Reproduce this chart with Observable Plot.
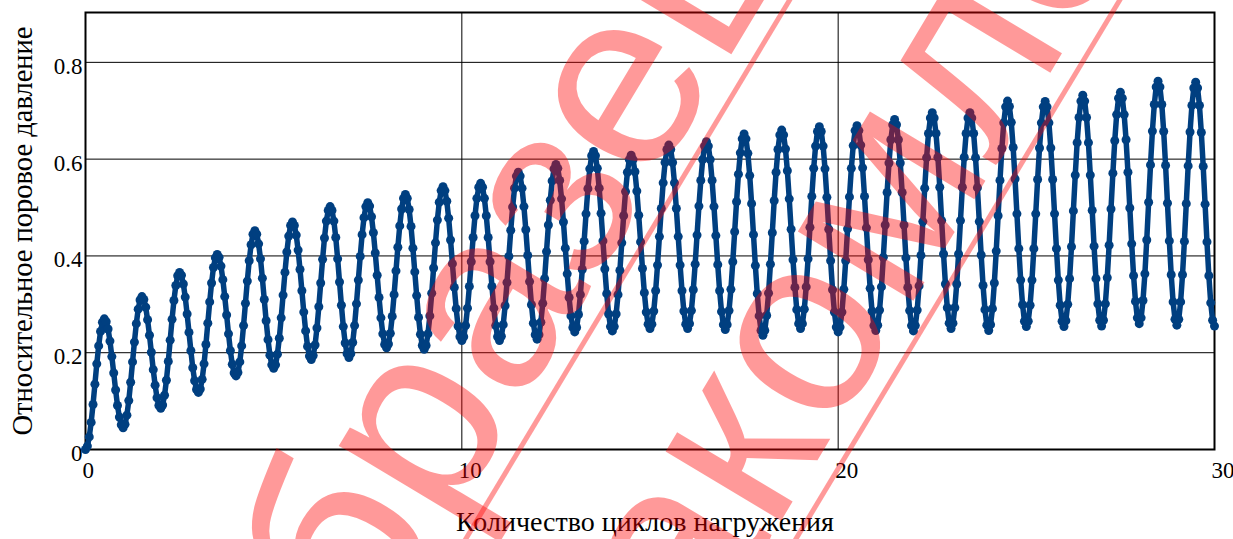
<!DOCTYPE html>
<html><head><meta charset="utf-8">
<script src="https://cdn.jsdelivr.net/npm/d3@7"></script>
<script src="https://cdn.jsdelivr.net/npm/@observablehq/plot@0.6"></script>
<style>
html,body{margin:0;padding:0;background:#fff;}
#wrap{position:relative;width:1233px;height:539px;overflow:hidden;background:#fff;}
#wm{position:absolute;left:0;top:0;pointer-events:none;}
</style></head><body>
<div id="wrap"></div>
<script>
const xTitle = "Количество циклов нагружения";
const yTitle = "Относительное поровое давление";
const xTicks = [0, 10, 20, 30];
const yTicks = [0, 0.2, 0.4, 0.6, 0.8];
const samplesPerCycle = 20;
// relative pore pressure, one row per loading cycle (20 samples each)
const cycleValues = [
[0,.007,.026,.056,.093,.135,.177,.214,.244,.263,.27,.264,.249,.224,.192,.158,.123,.091,.067,.051],
[.045,.052,.071,.101,.139,.181,.222,.260,.290,.309,.316,.310,.294,.268,.236,.201,.165,.133,.107,.091],
[.085,.092,.112,.143,.182,.226,.269,.308,.339,.359,.366,.360,.342,.315,.280,.242,.204,.169,.142,.124],
[.118,.125,.145,.177,.217,.261,.305,.344,.376,.396,.403,.397,.379,.351,.316,.278,.239,.204,.176,.158],
[.152,.159,.181,.214,.256,.302,.348,.390,.423,.445,.452,.445,.425,.394,.354,.310,.266,.227,.195,.175],
[.168,.175,.197,.230,.272,.319,.366,.408,.441,.463,.470,.463,.443,.412,.372,.328,.284,.245,.213,.193],
[.186,.194,.216,.251,.295,.344,.393,.437,.472,.494,.502,.494,.472,.438,.394,.346,.298,.254,.220,.198],
[.190,.198,.221,.256,.301,.350,.399,.444,.479,.502,.510,.503,.481,.448,.406,.360,.314,.272,.239,.217],
[.210,.218,.240,.275,.320,.369,.418,.462,.497,.519,.527,.519,.496,.461,.416,.367,.318,.273,.238,.215],
[.207,.215,.239,.276,.323,.375,.427,.474,.511,.535,.543,.535,.513,.478,.433,.384,.335,.291,.255,.233],
[.225,.233,.256,.292,.337,.388,.438,.483,.519,.542,.550,.542,.519,.483,.438,.388,.337,.292,.256,.233],
[.225,.234,.258,.297,.345,.399,.453,.501,.540,.565,.573,.565,.540,.502,.454,.401,.347,.299,.261,.237],
[.228,.237,.263,.302,.353,.409,.464,.515,.555,.580,.589,.581,.556,.518,.470,.416,.363,.314,.276,.252],
[.243,.252,.279,.320,.372,.430,.487,.539,.580,.607,.616,.607,.581,.540,.488,.431,.373,.322,.280,.254],
[.245,.254,.280,.320,.370,.427,.483,.533,.573,.599,.608,.599,.574,.534,.484,.429,.374,.324,.284,.259],
[.250,.259,.286,.328,.381,.440,.498,.551,.593,.620,.629,.620,.593,.551,.498,.440,.381,.328,.286,.259],
[.250,.260,.287,.330,.383,.443,.503,.556,.599,.627,.636,.627,.599,.556,.502,.442,.382,.328,.285,.258],
[.248,.258,.287,.331,.388,.450,.512,.569,.613,.642,.652,.642,.612,.566,.508,.444,.380,.322,.276,.246],
[.236,.246,.277,.323,.383,.448,.514,.573,.620,.650,.660,.650,.621,.576,.518,.455,.392,.335,.289,.260],
[.250,.260,.290,.336,.394,.459,.523,.581,.627,.657,.667,.657,.627,.580,.521,.455,.390,.330,.284,.253],
[.243,.253,.284,.331,.390,.456,.522,.581,.628,.659,.669,.659,.629,.582,.523,.458,.392,.333,.286,.256],
[.246,.257,.288,.336,.397,.464,.531,.592,.640,.671,.682,.671,.640,.592,.531,.464,.396,.335,.287,.256],
[.245,.256,.288,.338,.401,.471,.540,.603,.653,.685,.696,.685,.653,.604,.542,.473,.404,.342,.293,.261],
[.250,.261,.293,.342,.404,.473,.542,.604,.653,.685,.696,.685,.653,.603,.541,.471,.402,.339,.289,.257],
[.246,.258,.291,.344,.410,.483,.556,.622,.675,.708,.720,.709,.676,.624,.559,.487,.415,.350,.299,.265],
[.254,.265,.298,.350,.415,.487,.558,.623,.675,.708,.719,.708,.675,.623,.558,.487,.415,.350,.298,.265],
[.254,.266,.300,.353,.419,.493,.567,.634,.686,.720,.732,.720,.686,.634,.567,.494,.420,.353,.301,.267],
[.255,.267,.301,.355,.422,.497,.571,.638,.692,.726,.738,.726,.692,.640,.573,.499,.425,.359,.306,.272],
[.260,.272,.308,.363,.433,.511,.588,.658,.713,.749,.761,.749,.713,.657,.587,.509,.431,.361,.305,.269],
[.257,.269,.305,.361,.430,.508,.586,.656,.711,.747,.759,.747,.711,.655,.585,.507,.429,.359,.303,.267]
];
const endValue = 0.255;
const watermarkLines = ["образец", "ознакомления"];

const data = [];
cycleValues.forEach((row, c) => row.forEach((v, i) => data.push({x: c + i / samplesPerCycle, y: v})));
data.push({x: cycleValues.length, y: endValue});

const serif = "Liberation Serif, Times New Roman, serif";
const blue = "#003f80";
const chart = Plot.plot({
  width: 1233,
  height: 539,
  marginLeft: 85,
  marginRight: 19,
  marginTop: 12,
  marginBottom: 90,
  style: {fontFamily: serif, fontSize: "23px", background: "white", color: "black"},
  x: {domain: [0, 30]},
  y: {domain: [0, 0.903]},
  marks: [
    Plot.gridY(yTicks.filter(d => d > 0), {stroke: "black", strokeOpacity: 1, strokeWidth: 1}),
    Plot.gridX(xTicks.filter(d => d > 0 && d < 30), {stroke: "black", strokeOpacity: 1, strokeWidth: 1}),
    Plot.frame({stroke: "black", strokeWidth: 2}),
    Plot.axisY(yTicks, {tickSize: 0, tickPadding: 3, dy: 4, label: null, tickFormat: d => String(d), fontSize: 23, fontFamily: serif}),
    Plot.axisX(xTicks, {tickSize: 0, tickPadding: 12, textAnchor: "start", dx: -3, label: null, tickFormat: d => String(d), fontSize: 23, fontFamily: serif}),
    Plot.line(data, {x: "x", y: "y", stroke: blue, strokeWidth: 5.5, strokeLinejoin: "round"}),
    Plot.dot(data, {x: "x", y: "y", r: 4.5, fill: blue, stroke: "none"}),
    Plot.text([xTitle], {text: d => d, frameAnchor: "bottom", textAnchor: "middle", dx: -5, dy: 73, fontSize: 28, lineAnchor: "middle", fontFamily: serif}),
    Plot.text([yTitle], {text: d => d, frameAnchor: "left", textAnchor: "middle", dx: -63, rotate: -90, fontSize: 28.5, lineAnchor: "middle", fontFamily: serif})
  ]
});
const wrap = document.getElementById("wrap");
wrap.appendChild(chart);

const ns = "http://www.w3.org/2000/svg";
const wm = document.createElementNS(ns, "svg");
wm.setAttribute("id", "wm");
wm.setAttribute("width", 1233);
wm.setAttribute("height", 539);
wm.innerHTML = `
<g transform="translate(297.5,776.3) rotate(-59)" font-family="'Liberation Sans', Arial, sans-serif" font-size="255">
  <text x="0" y="0" fill="red" fill-opacity="0.4">${watermarkLines[0]}</text>
  <text x="-87.6" y="283" fill="red" fill-opacity="0.4">${watermarkLines[1]}</text>
  <line x1="-120" y1="22" x2="1150" y2="22" stroke="red" stroke-opacity="0.4" stroke-width="5"/>
  <line x1="-200" y1="305" x2="1900" y2="305" stroke="red" stroke-opacity="0.4" stroke-width="5"/>
</g>`;
wrap.appendChild(wm);
</script>
</body></html>
